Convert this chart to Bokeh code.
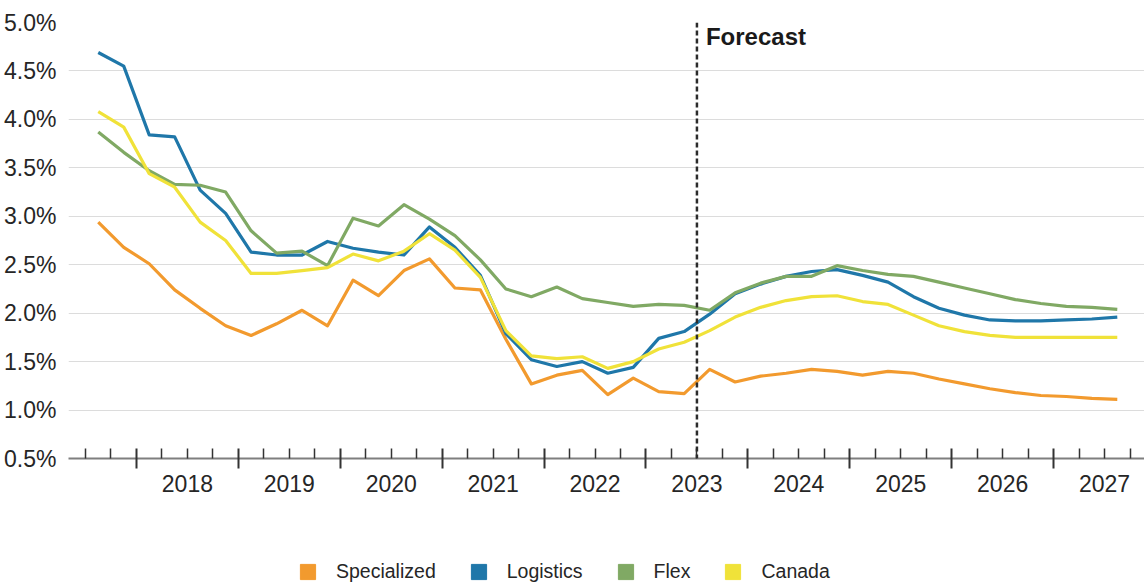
from bokeh.plotting import figure
from bokeh.layouts import column
from bokeh.models import (FixedTicker, LinearAxis, Legend, LegendItem, Span, Label,
                          PrintfTickFormatter, Range1d)
from bokeh.embed import file_html
from bokeh.resources import INLINE

# ---------------- data ----------------
quarters = [
    "2017Q3", "2017Q4",
    "2018Q1", "2018Q2", "2018Q3", "2018Q4",
    "2019Q1", "2019Q2", "2019Q3", "2019Q4",
    "2020Q1", "2020Q2", "2020Q3", "2020Q4",
    "2021Q1", "2021Q2", "2021Q3", "2021Q4",
    "2022Q1", "2022Q2", "2022Q3", "2022Q4",
    "2023Q1", "2023Q2", "2023Q3", "2023Q4",
    "2024Q1", "2024Q2", "2024Q3", "2024Q4",
    "2025Q1", "2025Q2", "2025Q3", "2025Q4",
    "2026Q1", "2026Q2", "2026Q3", "2026Q4",
    "2027Q1", "2027Q2", "2027Q3",
]
specialized = [2.94, 2.68, 2.51, 2.24, 2.05, 1.87, 1.77, 1.89, 2.03, 1.87,
               2.34, 2.18, 2.44, 2.56, 2.26, 2.24, 1.73, 1.27, 1.36, 1.41,
               1.16, 1.33, 1.19, 1.17, 1.42, 1.29, 1.35, 1.38, 1.42, 1.40,
               1.36, 1.40, 1.38, 1.32, 1.27, 1.22, 1.18, 1.15, 1.14, 1.12, 1.11]
logistics = [4.69, 4.55, 3.84, 3.82, 3.27, 3.03, 2.63, 2.60, 2.60, 2.74,
             2.67, 2.63, 2.60, 2.89, 2.68, 2.39, 1.79, 1.52, 1.45, 1.50,
             1.38, 1.44, 1.74, 1.81, 1.99, 2.20, 2.30, 2.38, 2.43, 2.45,
             2.39, 2.32, 2.17, 2.05, 1.98, 1.93, 1.92, 1.92, 1.93, 1.94, 1.96]
flex = [3.87, 3.66, 3.47, 3.33, 3.32, 3.25, 2.85, 2.62, 2.64, 2.49,
        2.98, 2.90, 3.12, 2.97, 2.80, 2.55, 2.25, 2.17, 2.27, 2.15,
        2.11, 2.07, 2.09, 2.08, 2.03, 2.21, 2.31, 2.38, 2.38, 2.49,
        2.44, 2.40, 2.38, 2.32, 2.26, 2.20, 2.14, 2.10, 2.07, 2.06, 2.04]
canada = [4.08, 3.92, 3.44, 3.30, 2.94, 2.75, 2.41, 2.41, 2.44, 2.47,
          2.61, 2.54, 2.64, 2.82, 2.65, 2.37, 1.82, 1.56, 1.53, 1.55,
          1.43, 1.50, 1.63, 1.70, 1.82, 1.96, 2.06, 2.13, 2.17, 2.18,
          2.12, 2.09, 1.98, 1.87, 1.81, 1.77, 1.75, 1.75, 1.75, 1.75, 1.75]
year_labels = ["2018", "2019", "2020", "2021", "2022", "2023", "2024", "2025", "2026", "2027"]
y_ticks = [0.5, 1.0, 1.5, 2.0, 2.5, 3.0, 3.5, 4.0, 4.5, 5.0]
forecast_start = "2023Q3"
series_names = ["Specialized", "Logistics", "Flex", "Canada"]
series_colors = ["#F29A2E", "#1F77A9", "#80A964", "#F0E239"]

# ---------------- helpers ----------------
def qpos(q):
    y, n = q.split("Q")
    return int(y) + (int(n) - 0.5) / 4.0

xs = [qpos(q) for q in quarters]
years = [int(y) for y in year_labels]
year_bounds = years + [years[-1] + 1]
quarter_bounds = [y + f for y in [years[0] - 1] + years for f in (0.25, 0.5, 0.75)]
forecast_x = qpos(forecast_start) - 0.125

FONT = "Liberation Sans"
TXT = "#262626"

p = figure(width=1144, height=508, output_backend="svg", toolbar_location=None,
           x_range=Range1d(2017.333, 2027.892), y_range=Range1d(0.5, 5.0),
           min_border_left=68, min_border_right=0, min_border_top=22, min_border_bottom=50)
p.outline_line_color = None
p.background_fill_color = "white"
p.border_fill_color = "white"

# y axis
p.yaxis.ticker = FixedTicker(ticks=y_ticks)
p.yaxis.formatter = PrintfTickFormatter(format="%.1f%%")
p.yaxis.axis_line_color = None
p.yaxis.major_tick_line_color = None
p.yaxis.minor_tick_line_color = None
p.yaxis.major_label_standoff = 6
p.yaxis.major_label_text_font = FONT
p.yaxis.major_label_text_font_size = "23px"
p.yaxis.major_label_text_color = TXT
p.ygrid.ticker = FixedTicker(ticks=y_ticks)
p.ygrid.grid_line_color = "#DCDCDC"
p.ygrid.grid_line_width = 1
p.xgrid.grid_line_color = None

# x axis 1: quarter / year tick marks (labels come from the second axis)
ax = p.xaxis[0]
ax.ticker = FixedTicker(ticks=year_bounds, minor_ticks=quarter_bounds)
ax.axis_line_color = "#7F7F7F"
ax.axis_line_width = 2
ax.major_tick_line_color = "#333333"
ax.major_tick_line_width = 2
ax.major_tick_in = 10
ax.major_tick_out = 10
ax.minor_tick_line_color = "#333333"
ax.minor_tick_line_width = 1.5
ax.minor_tick_in = 10
ax.minor_tick_out = 0
ax.major_label_overrides = {b: "" for b in year_bounds}
ax.major_label_text_font_size = "1px"
ax.major_label_standoff = 0

# x axis 2: year labels centred in each year
ax2 = LinearAxis(ticker=FixedTicker(ticks=[y + 0.5 for y in years]),
                 major_label_overrides={y + 0.5: s for y, s in zip(years, year_labels)})
ax2.axis_line_color = None
ax2.major_tick_line_color = None
ax2.minor_tick_line_color = None
ax2.major_tick_in = 0
ax2.major_tick_out = 0
ax2.major_label_standoff = 6
ax2.major_label_text_font = FONT
ax2.major_label_text_font_size = "23px"
ax2.major_label_text_color = TXT
p.add_layout(ax2, "below")

# lines
for name, vals, col in zip(series_names, [specialized, logistics, flex, canada], series_colors):
    p.line(xs, vals, line_color=col, line_width=3.2, line_join="round")

# forecast divider
p.add_layout(Span(location=forecast_x, dimension="height", line_color="#2B2B2B",
                  line_width=2.5, line_dash="5 3"))
p.add_layout(Label(x=forecast_x, y=5.0, x_offset=9, y_offset=0, text="Forecast",
                   text_font=FONT, text_font_style="bold", text_font_size="24px",
                   text_color="#1A1A1A", text_baseline="top"))

# legend strip below the chart
pl = figure(width=1144, height=76, output_backend="svg", toolbar_location=None,
            x_range=Range1d(0, 1), y_range=Range1d(0, 1), x_axis_type=None, y_axis_type=None,
            min_border=0)
pl.outline_line_color = None
pl.grid.visible = False
items = []
for name, col in zip(series_names, series_colors):
    # swatch renderer: its quad lies outside the strip's range, only the legend shows it
    r = pl.quad(left=[-2], right=[-1], bottom=[-2], top=[-1], fill_color=col, line_color=col)
    items.append(LegendItem(label=name, renderers=[r]))
legend = Legend(items=items, orientation="horizontal", location=(230, 1),
                label_text_font=FONT, label_text_font_size="19.5px", label_text_color=TXT,
                glyph_width=19, glyph_height=19, label_standoff=19, spacing=33,
                padding=0, margin=0, border_line_color=None, background_fill_alpha=0)
pl.add_layout(legend, "center")

open("out.html", "w").write(file_html(column(p, pl, spacing=0), INLINE))
